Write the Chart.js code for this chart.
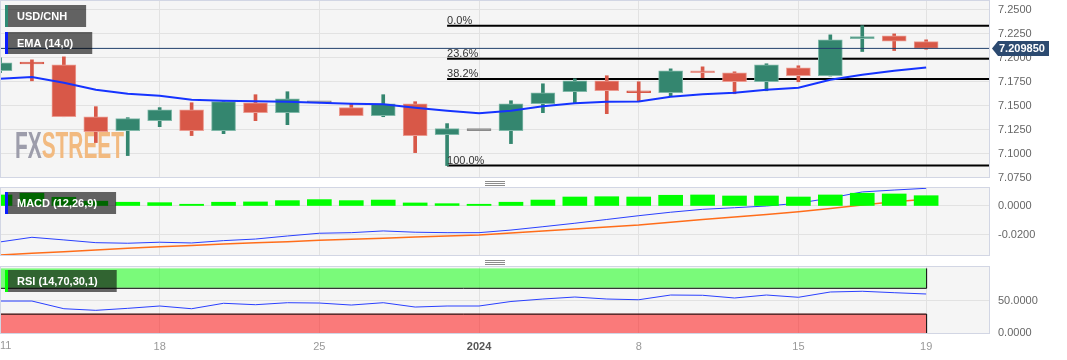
<!DOCTYPE html>
<html><head><meta charset="utf-8">
<script src="https://cdn.jsdelivr.net/npm/chart.js@4.4.1/dist/chart.umd.min.js"></script>
<style>
html,body{margin:0;padding:0;background:#fff;width:1067px;height:360px;overflow:hidden;position:relative}
canvas{position:absolute;left:0}
</style></head><body>
<canvas id="main" width="1067" height="183" style="top:0px"></canvas>
<canvas id="macd" width="1067" height="80" style="top:178px"></canvas>
<canvas id="rsi" width="1067" height="103" style="top:257px"></canvas>
<script>
// ---- DATA (daily, 11 Dec 2023 .. 19 Jan 2024) ----
const tickIndex  = [0, 5, 10, 15, 20, 25, 29];
const tickLabels = ['11', '18', '25', '2024', '8', '15', '19'];

const opens  = [7.1865,7.1940,7.1927,7.1385,7.1240,7.1344,7.1458,7.1240,7.1531,7.1427,7.1531,7.1480,7.1396,7.1520,7.1198,7.1240,7.1240,7.1520,7.1646,7.1760,7.1638,7.1635,7.1865,7.1844,7.1750,7.1896,7.1813,7.2200,7.2229,7.2170];
const highs  = [7.2000,7.1979,7.2010,7.1490,7.1375,7.1480,7.1531,7.1552,7.1615,7.1646,7.1531,7.1520,7.1615,7.1542,7.1313,7.1240,7.1552,7.1729,7.1781,7.1813,7.1750,7.1885,7.1906,7.1854,7.1938,7.1917,7.2240,7.2336,7.2250,7.2188];
const lows   = [7.1844,7.1760,7.1385,7.1115,7.0979,7.1281,7.1188,7.1208,7.1344,7.1302,7.1531,7.1396,7.1385,7.1010,7.0875,7.1240,7.1104,7.1427,7.1531,7.1417,7.1542,7.1594,7.1792,7.1625,7.1656,7.1750,7.1810,7.2066,7.2076,7.2090];
const closes = [7.1948,7.1936,7.1385,7.1229,7.1365,7.1458,7.1240,7.1542,7.1427,7.1573,7.1531,7.1396,7.1520,7.1188,7.1260,7.1240,7.1520,7.1635,7.1760,7.1656,7.1635,7.1865,7.1844,7.1750,7.1927,7.1813,7.2188,7.2218,7.2174,7.20985];
const ema14  = [7.1781,7.1799,7.1740,7.1667,7.1625,7.1604,7.1563,7.1552,7.1547,7.1542,7.1531,7.1521,7.1516,7.1479,7.1448,7.1420,7.1448,7.1495,7.1526,7.1542,7.1545,7.1594,7.1620,7.1635,7.1667,7.1688,7.1771,7.1823,7.1865,7.1899];

const macdLine   = [-0.0248,-0.0216,-0.0234,-0.0253,-0.0257,-0.0250,-0.0255,-0.0239,-0.0228,-0.0207,-0.0188,-0.0184,-0.0172,-0.0181,-0.0184,-0.0184,-0.0166,-0.0143,-0.0119,-0.0093,-0.0067,-0.0043,-0.0023,-0.0012,0.0000,0.0019,0.0055,0.0097,0.0110,0.0122];
const signalLine = [-0.0338,-0.0326,-0.0315,-0.0303,-0.0292,-0.0281,-0.0272,-0.0263,-0.0254,-0.0246,-0.0237,-0.0229,-0.0222,-0.0214,-0.0207,-0.0200,-0.0186,-0.0172,-0.0159,-0.0145,-0.0131,-0.0112,-0.0094,-0.0076,-0.0058,-0.0039,-0.0017,0.0007,0.0030,0.0046];
const macdHist   = [0.0076,0.0088,0.0060,0.0033,0.0026,0.0023,0.0012,0.0026,0.0028,0.0037,0.0044,0.0037,0.0041,0.0021,0.0016,0.0012,0.0026,0.0041,0.0062,0.0064,0.0062,0.0074,0.0076,0.0069,0.0069,0.0062,0.0076,0.0088,0.0083,0.0071];

const rsi14 = [49.5,49.5,37.6,35.1,38.2,41.8,37.6,46.0,43.8,46.9,46.4,43.3,46.9,40.2,41.8,41.8,48.8,52.6,55.7,52.6,51.5,58.8,58.4,54.2,58.8,55.3,63.5,64.6,62.4,60.4];

const mainTicks = [7.075, 7.1, 7.125, 7.15, 7.175, 7.2, 7.225, 7.25];
const macdTicks = [-0.02, 0];
const rsiTicks  = [0, 50];
const rsiBands  = [[70, 100], [0, 30]];

const fibRatios = [0, 0.236, 0.382, 1];
const fibLabels = ['0.0%', '23.6%', '38.2%', '100.0%'];
const swingLowIndex = 14, swingLow = 7.0875, swingHigh = 7.2336;
const lastPrice = 7.209850;

// ---- STYLE ----
const FONT = '"Liberation Sans", Arial, sans-serif';
const GRID = '#e2e2e2';
const XMAX = 31;
Chart.defaults.font.family = FONT;

const idx = opens.map((_, i) => i);
const GREEN = '#34866f', GREEN_RIM = '#7fb8a8';
const RED = '#d85848', RED_RIM = '#eb9a90';
const GRAY = '#8a8a8a';
const isFlat = i => opens[i] === closes[i] && highs[i] === lows[i];
const bodyFill = idx.map(i => isFlat(i) ? GRAY : (closes[i] >= opens[i] ? GREEN : RED));
const bodyRim = idx.map(i => isFlat(i) || Math.abs(closes[i] - opens[i]) < 0.0008 ? bodyFill[i] : (closes[i] >= opens[i] ? GREEN_RIM : RED_RIM));
const labelAt = v => tickLabels[tickIndex.indexOf(v)];
const isYear = v => /^\d{4}$/.test(labelAt(v) || '');

function xScale(showLabels) {
  return {
    type: 'linear', min: 0, max: XMAX, offset: false,
    afterBuildTicks: s => { s.ticks = tickIndex.map(v => ({ value: v })); },
    afterFit: s => { s.height = showLabels ? 26 : 0; s.paddingLeft = 0; s.paddingRight = 0; s.paddingTop = 0; s.paddingBottom = 0; },
    grid: { color: GRID, drawTicks: false, offset: false },
    border: { display: false },
    ticks: {
      display: showLabels, autoSkip: false, maxRotation: 0, padding: 6,
      callback: v => (v === 0 ? '' : labelAt(v)),
      color: c => isYear(c.tick && c.tick.value) ? '#555' : '#999',
      font: c => ({ family: FONT, size: 11, weight: isYear(c.tick && c.tick.value) ? 'bold' : 'normal' })
    }
  };
}
function yScale(min, max, ticks) {
  return {
    position: 'right', min, max,
    afterBuildTicks: s => { s.ticks = ticks.map(v => ({ value: v })); },
    afterFit: s => { s.width = 77; s.paddingTop = 0; s.paddingBottom = 0; s.paddingLeft = 0; s.paddingRight = 0; },
    grid: { color: GRID, drawTicks: false },
    border: { display: false },
    ticks: { padding: 8, color: '#666', font: { size: 11, family: FONT }, callback: v => Number(v).toFixed(4) }
  };
}

const panelPlugin = {
  id: 'panel',
  beforeDraw(chart) {
    const { ctx, chartArea: a } = chart;
    ctx.save(); ctx.fillStyle = '#f5f5f5';
    ctx.fillRect(a.left, a.top, a.right - a.left, a.bottom - a.top); ctx.restore();
  },
  afterDatasetsDraw(chart) {
    const { ctx, chartArea: a } = chart;
    ctx.save(); ctx.strokeStyle = '#d2d6e4'; ctx.lineWidth = 1;
    ctx.strokeRect(a.left + 0.5, a.top + 0.5, a.right - a.left - 1, a.bottom - a.top - 1); ctx.restore();
  }
};

function drawTag(ctx, x, y, text, stripe) {
  ctx.save();
  ctx.font = 'bold 11px ' + FONT;
  const w = ctx.measureText(text).width;
  ctx.fillStyle = 'rgba(0,0,0,0.6)';
  ctx.fillRect(x, y, 12 + w + 19, 22);
  ctx.fillStyle = stripe;
  ctx.fillRect(x, y, 3, 22);
  ctx.fillStyle = '#fff'; ctx.textBaseline = 'middle';
  ctx.fillText(text, x + 12, y + 11.5);
  ctx.restore();
}
function drawSeparator(ctx, y) {
  ctx.save(); ctx.strokeStyle = '#8c8c8c'; ctx.lineWidth = 1;
  for (let k = 0; k < 3; k++) { ctx.beginPath(); ctx.moveTo(485, y + 2 * k + 0.5); ctx.lineTo(505, y + 2 * k + 0.5); ctx.stroke(); }
  ctx.restore();
}

const baseOpts = { responsive: false, animation: false, devicePixelRatio: 1, events: [],
  plugins: { legend: { display: false }, tooltip: { enabled: false } } };

// ---- MAIN ----
const fibLevels = fibRatios.map(r => swingHigh - r * (swingHigh - swingLow));
const mainExtras = {
  id: 'mainExtras',
  beforeDatasetsDraw(chart) {
    const { ctx } = chart;
    ctx.save();
    ctx.font = 'bold 36px "Liberation Sans Narrow", "Liberation Sans", sans-serif';
    const w1 = ctx.measureText('FX').width, w2 = ctx.measureText('STREET').width;
    ctx.translate(15, 158); ctx.scale(109 / (w1 + w2), 1);
    ctx.fillStyle = '#9d9dab'; ctx.fillText('FX', 0, 0);
    ctx.fillStyle = '#f2ba80'; ctx.fillText('STREET', w1, 0);
    ctx.restore();
  },
  afterDraw(chart) {
    const { ctx, scales: { x, y } } = chart;
    ctx.save();
    ctx.font = '11px ' + FONT; ctx.fillStyle = '#333'; ctx.textBaseline = 'alphabetic';
    fibLevels.forEach((lv, k) => ctx.fillText(fibLabels[k], x.getPixelForValue(swingLowIndex), y.getPixelForValue(lv) - 2));
    // price tag
    const py = y.getPixelForValue(lastPrice);
    ctx.fillStyle = '#2c4a70';
    ctx.beginPath();
    ctx.moveTo(992, py); ctx.lineTo(998, py - 7.5); ctx.lineTo(1049, py - 7.5);
    ctx.lineTo(1049, py + 7.5); ctx.lineTo(998, py + 7.5); ctx.closePath(); ctx.fill();
    ctx.fillStyle = '#fff'; ctx.font = 'bold 11px ' + FONT; ctx.textBaseline = 'middle';
    ctx.fillText(lastPrice.toFixed(6), 999, py + 0.5);
    ctx.restore();
    drawTag(ctx, 5, 5, 'USD/CNH', '#2e8b74');
    drawTag(ctx, 5, 32, 'EMA (14,0)', '#0a1cff');
  }
};

new Chart(document.getElementById('main'), {
  type: 'bar',
  data: { datasets: [
    { type: 'line', data: [{ x: 0, y: lastPrice }, { x: XMAX, y: lastPrice }], borderColor: '#21406c', borderWidth: 1, pointRadius: 0, order: 0 },
    { type: 'line', data: idx.map(i => ({ x: i, y: ema14[i] })), borderColor: '#1533ff', borderWidth: 2, pointRadius: 0, tension: 0, order: 1 },
    { type: 'bar', data: idx.map(i => ({ x: i, y: [opens[i], closes[i]] })), backgroundColor: bodyFill, borderColor: bodyRim, borderWidth: 1, borderSkipped: false, barThickness: 24, minBarLength: 2, grouped: false, order: 2 },
    { type: 'bar', data: idx.map(i => ({ x: i, y: [lows[i], highs[i]] })), backgroundColor: bodyFill, barThickness: 3, grouped: false, order: 3 },
    ...fibLevels.map(lv => ({ type: 'line', data: [{ x: swingLowIndex, y: lv }, { x: XMAX, y: lv }], borderColor: '#000', borderWidth: 2, pointRadius: 0, order: 4 }))
  ] },
  options: { ...baseOpts, layout: { padding: { top: 0, bottom: 5, left: 0, right: 0 } },
    scales: { x: xScale(false), y: yScale(7.0745, 7.2604, mainTicks) } },
  plugins: [panelPlugin, mainExtras]
});

// ---- MACD ----
new Chart(document.getElementById('macd'), {
  type: 'bar',
  data: { datasets: [
    { type: 'bar', data: idx.map(i => ({ x: i, y: macdHist[i] })), backgroundColor: '#00ff00', barThickness: 24, grouped: false, order: 0 },
    { type: 'line', data: idx.map(i => ({ x: i, y: macdLine[i] })), borderColor: '#2a40ff', borderWidth: 1, pointRadius: 0, tension: 0, order: 1 },
    { type: 'line', data: idx.map(i => ({ x: i, y: signalLine[i] })), borderColor: '#ff6d1a', borderWidth: 1.5, pointRadius: 0, tension: 0, order: 2 }
  ] },
  options: { ...baseOpts, layout: { padding: { top: 9, bottom: 2, left: 0, right: 0 } },
    scales: { x: xScale(false), y: yScale(-0.0345, 0.0131, macdTicks) } },
  plugins: [panelPlugin, { id: 'macdExtras', afterDraw(chart) {
    drawSeparator(chart.ctx, 3);
    drawTag(chart.ctx, 5, 14, 'MACD (12,26,9)', '#0a1cff');
  } }]
});

// ---- RSI ----
new Chart(document.getElementById('rsi'), {
  type: 'line',
  data: { datasets: [
    { data: idx.map(i => ({ x: i, y: rsi14[i] })), borderColor: '#2a40ff', borderWidth: 1, pointRadius: 0, tension: 0 }
  ] },
  options: { ...baseOpts, layout: { padding: { top: 9, bottom: 0, left: 0, right: 0 } },
    scales: { x: xScale(true), y: yScale(-1.5, 103.7, rsiTicks) } },
  plugins: [panelPlugin, { id: 'rsiExtras',
    beforeDatasetsDraw(chart) {
      const { ctx, scales: { x, y } } = chart;
      const x0 = x.getPixelForValue(0), x1 = x.getPixelForValue(rsi14.length - 1);
      const fills = ['rgba(0,255,0,0.5)', 'rgba(255,0,0,0.5)'];
      ctx.save();
      rsiBands.forEach(([lo, hi], k) => {
        const yt = Math.max(y.getPixelForValue(hi), chart.chartArea.top + 1);
        const yb = Math.min(y.getPixelForValue(lo), chart.chartArea.bottom - 1);
        ctx.fillStyle = fills[k];
        ctx.fillRect(x0, yt, x1 - x0, yb - yt);
        ctx.strokeStyle = '#000'; ctx.lineWidth = 1;
        ctx.beginPath();
        if (k === 0) { ctx.moveTo(x0 + 0.5, yt); ctx.lineTo(x0 + 0.5, yb + 0.5); ctx.lineTo(x1 + 0.5, yb + 0.5); ctx.lineTo(x1 + 0.5, yt); }
        else { ctx.moveTo(x0 + 0.5, yb); ctx.lineTo(x0 + 0.5, yt + 0.5); ctx.lineTo(x1 + 0.5, yt + 0.5); ctx.lineTo(x1 + 0.5, yb); }
        ctx.stroke();
      });
      ctx.restore();
    },
    afterDraw(chart) {
      const { ctx, scales: { x } } = chart;
      // first date label sits flush with the left edge
      ctx.save();
      ctx.font = '11px ' + FONT; ctx.fillStyle = '#999'; ctx.textBaseline = 'top';
      ctx.fillText(labelAt(0), x.getPixelForValue(0), chart.chartArea.bottom + 6);
      ctx.restore();
      drawSeparator(ctx, 3);
      drawTag(ctx, 5, 13, 'RSI (14,70,30,1)', '#00ff00');
    } }]
});
</script></body></html>
